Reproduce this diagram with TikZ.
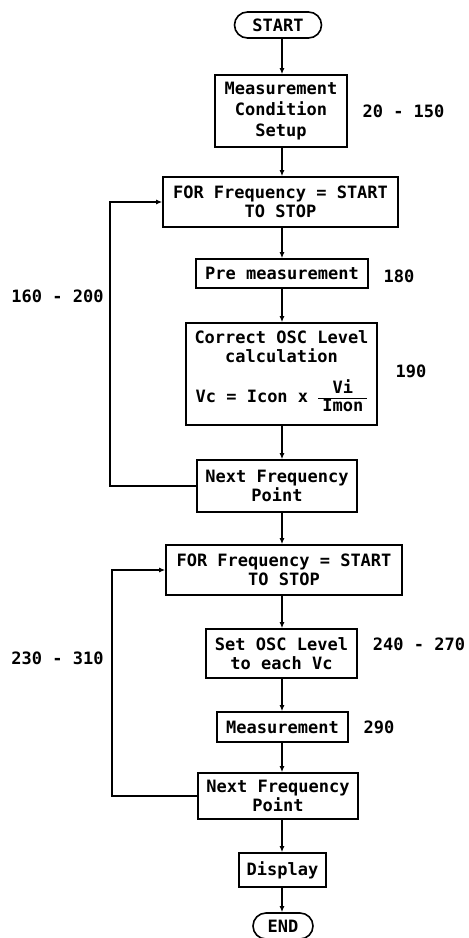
\documentclass[tikz,border=0pt]{standalone}
\usepackage{fontspec}
\setmainfont{DejaVu Sans Mono}
\usetikzlibrary{arrows.meta}
\newcommand{\fracpart}[2]{\raisebox{-9pt}{\begin{tabular}[b]{@{\hspace{4pt}}c@{\hspace{4pt}}}#1\\[-1pt]\hline #2\end{tabular}}}
\begin{document}
\begin{tikzpicture}[x=1pt,y=-1pt,
  box/.style={draw, line width=1.6pt, inner sep=0pt, align=center,
    font=\fontsize{17}{19}\selectfont\bfseries},
  term/.style={box, rounded corners=13pt},
  lbl/.style={font=\fontsize{17}{19}\selectfont\bfseries, inner sep=0pt},
  arr/.style={line width=1.6pt, -{Latex[length=6pt,width=5pt]}},
  plain/.style={line width=1.6pt}]
\useasboundingbox (0,0) rectangle (469,938);

% nodes
\node[term, minimum width=87pt, minimum height=26pt] (start) at (278,25) {START};
\node[box, minimum width=132pt, minimum height=72pt] (setup) at (281,111) {Measurement\\[2pt]Condition\\[2pt]Setup};
\node[box, minimum width=235pt, minimum height=50pt] (for1) at (280.5,202) {FOR Frequency = START\\TO STOP};
\node[box, minimum width=172pt, minimum height=29pt] (pre) at (282,273.5) {Pre measurement};
\node[box, minimum width=191pt, minimum height=102pt] (calc) at (281.5,374) {Correct OSC Level\\calculation\\[16pt]Vc = Icon x \fracpart{Vi}{Imon}};
\node[box, minimum width=160pt, minimum height=52pt] (next1) at (277,486) {Next Frequency\\Point};
\node[box, minimum width=236pt, minimum height=50pt] (for2) at (284,570) {FOR Frequency = START\\TO STOP};
\node[box, minimum width=151pt, minimum height=49pt] (setosc) at (281.5,653.5) {Set OSC Level\\to each Vc};
\node[box, minimum width=131pt, minimum height=30pt] (meas) at (282.5,727) {Measurement};
\node[box, minimum width=160pt, minimum height=46pt] (next2) at (278,796) {Next Frequency\\Point};
\node[box, minimum width=87pt, minimum height=34pt] (disp) at (282.5,870) {Display};
\node[term, minimum width=60pt, minimum height=26pt] (end) at (283,926) {END};

% labels
\node[lbl] (l1) at (403.5,111.5) {20 - 150};
\node[lbl] (l2) at (399,276.5) {180};
\node[lbl] (l3) at (411,371.5) {190};
\node[lbl] (l4) at (57.5,296.5) {160 - 200};
\node[lbl] (l5) at (419,644) {240 - 270};
\node[lbl] (l6) at (379,727) {290};
\node[lbl] (l7) at (57.5,658) {230 - 310};

% main flow
\coordinate (ax) at (282,0);
\draw[arr] (start.south -| ax) -- (setup.north -| ax);
\draw[arr] (setup.south -| ax) -- (for1.north -| ax);
\draw[arr] (for1.south -| ax) -- (pre.north -| ax);
\draw[arr] (pre.south -| ax) -- (calc.north -| ax);
\draw[arr] (calc.south -| ax) -- (next1.north -| ax);
\draw[arr] (next1.south -| ax) -- (for2.north -| ax);
\draw[arr] (for2.south -| ax) -- (setosc.north -| ax);
\draw[arr] (setosc.south -| ax) -- (meas.north -| ax);
\draw[arr] (meas.south -| ax) -- (next2.north -| ax);
\draw[arr] (next2.south -| ax) -- (disp.north -| ax);
\draw[arr] (disp.south -| ax) -- (end.north -| ax);

% loops
\coordinate (lx1) at (110,0);
\coordinate (lx2) at (112,0);
\draw[arr] (next1.west) -- (next1.west -| lx1) -- (for1.west -| lx1) -- (for1.west);
\draw[arr] (next2.west) -- (next2.west -| lx2) -- (for2.west -| lx2) -- (for2.west);
\end{tikzpicture}
\end{document}
